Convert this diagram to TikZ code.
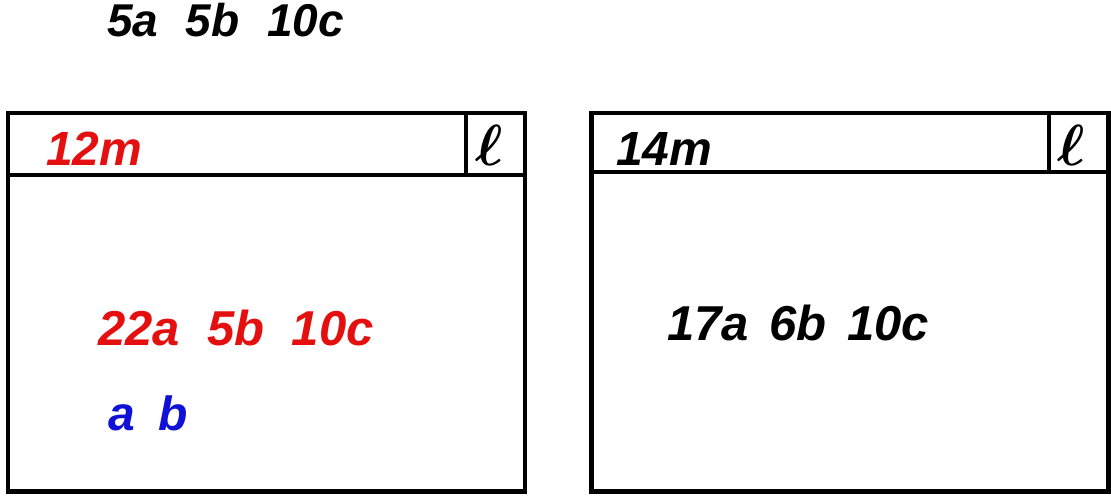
\RequirePackage{fix-cm}
\documentclass[tikz,border=0pt]{standalone}
\usepackage{fontspec}
\setmainfont{Liberation Sans}
\definecolor{txtred}{RGB}{228,16,16}
\definecolor{txtblue}{RGB}{16,16,214}
\newcommand{\wsp}[1][0.5em]{\hspace{#1}}
\begin{document}
\begin{tikzpicture}[x=1pt,y=-1pt,
  frame/.style={draw=black, line width=4.7pt, line join=miter},
  lbl/.style={inner sep=0pt, anchor=base west,
    font=\fontsize{#1}{#1}\selectfont\bfseries\itshape},
  lbl/.default=48,
  ellmark/.style={inner sep=0pt, anchor=base,
    font=\fontsize{58}{58}\selectfont\boldmath}]
\useasboundingbox (0,0) rectangle (1111,496);
% left panel
\draw[frame] (8,113) rectangle (525,491.5);
\draw[frame] (8,175) -- (525,175);
\draw[frame] (466,113) -- (466,175);
% right panel
\draw[frame] (591.5,113) rectangle (1108.5,491.5);
\draw[frame] (591.5,172) -- (1108.5,172);
\draw[frame] (1049,113) -- (1049,172);
% texts
\node[lbl=46] (top) at (107,36) {5a\wsp[0.6em]5b\wsp[0.6em]10c};
\node[lbl=48, text=txtred] (lm) at (46,165) {12m};
\node[ellmark] (lell) at (489,165) {$\ell$};
\node[lbl=48] (rm) at (616,165) {14m};
\node[ellmark] (rell) at (1071,165) {$\ell$};
\node[lbl=49, text=txtred] (lcount) at (98,345) {22a\wsp[0.56em]5b\wsp[0.56em]10c};
\node[lbl=48, text=txtblue] (lab) at (108,430) {a\wsp b};
\node[lbl=49] (rcount) at (667,340) {17a\wsp[0.42em]6b\wsp[0.42em]10c};
\end{tikzpicture}
\end{document}
